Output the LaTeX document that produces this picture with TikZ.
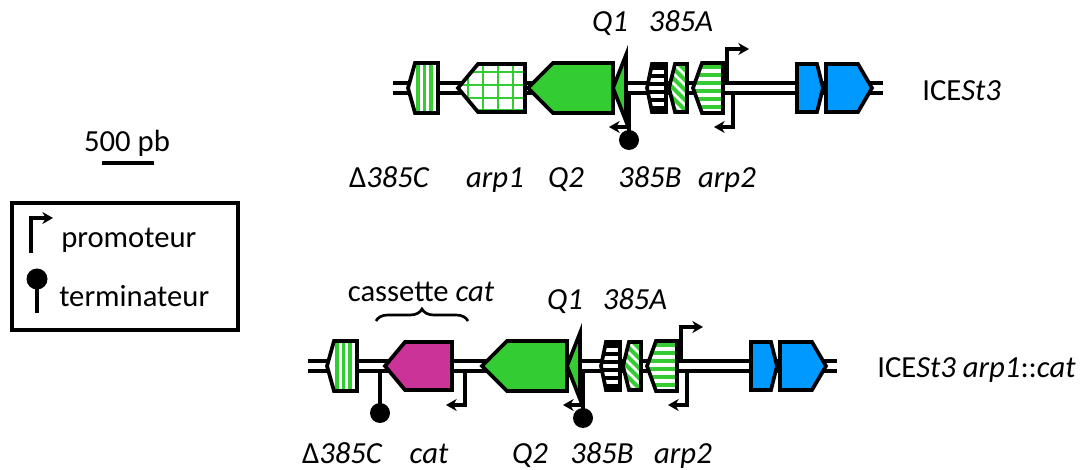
\documentclass[tikz,border=0pt]{standalone}
\usepackage{fontspec}
\setmainfont{Carlito}
\usetikzlibrary{arrows.meta,decorations.pathreplacing}
\definecolor{gr}{HTML}{33CC33}
\definecolor{bl}{HTML}{0099FF}
\definecolor{mg}{HTML}{CC3399}
\tikzset{
  gene/.style={draw=black, line width=2.8pt, line join=miter},
  wire/.style={line width=2.7pt, line join=miter},
  prom/.style={wire, -{Stealth[length=8pt,width=9pt]}},
  lbl/.style={anchor=base, inner sep=0pt, font=\fontsize{23}{27}\selectfont\itshape},
  txt/.style={inner sep=0pt, font=\fontsize{23}{27}\selectfont},
}
% gene outlines (row 1 coordinates)
\def\pDel{(408,88) -- (415,63) -- (438,63) -- (438,113) -- (415,113) -- cycle}
\def\pArpA{(458,88) -- (478,64) -- (525,64) -- (525,112) -- (478,112) -- cycle}
\def\pQtwo{(528,88) -- (553,63) -- (613,63) -- (613,113) -- (553,113) -- cycle}
\def\pQone{(613,88) -- (626,55) -- (626,121) -- cycle}
\def\pBB{(647,88) -- (652,64) -- (666,64) -- (666,112) -- (652,112) -- cycle}
\def\pBA{(669,88) -- (675,64) -- (687,64) -- (687,112) -- (675,112) -- cycle}
\def\pArpB{(693,88) -- (702,63) -- (723,63) -- (723,113) -- (702,113) -- cycle}
\def\pBlA{(797,64) -- (817,64) -- (823,88) -- (817,112) -- (797,112) -- cycle}
\def\pBlB{(826,64) -- (858,64) -- (872,88) -- (858,112) -- (826,112) -- cycle}
\def\pCat{(385,366) -- (405,342) -- (452,342) -- (452,390) -- (405,390) -- cycle}
\newcommand\dnaline[2]{%
  \draw[line width=10.5pt] (#1,88) -- (#2,88);
  \draw[line width=4.6pt, white] (#1-2,88) -- (#2+2,88);}
\newcommand\delgene{%
  \fill[white] \pDel;
  \begin{scope}\clip \pDel;
    \foreach \x in {418,424.5,431} \draw[gr, line width=2.6pt] (\x,60) -- (\x,116);
  \end{scope}
  \draw[gene] \pDel;}
\newcommand\tailpart{%
  \draw[gene, fill=gr] \pQtwo;
  \draw[gene, fill=gr] \pQone;
  \draw[wire] (629,93) -- (629,132);
  \fill (629,140) circle (10);
  \draw[prom] (629,127) -- (609,127);
  \fill[white] \pBB;
  \begin{scope}\clip \pBB;
    \foreach \y in {66,74,82,90,98,106} \fill (640,\y) rectangle (670,\y+4.2);
  \end{scope}
  \draw[gene] \pBB;
  \fill[white] \pBA;
  \begin{scope}\clip \pBA;
    \foreach \d in {-40,-30,...,30} \draw[gr, line width=3pt] (660+\d,55) -- (720+\d,115);
  \end{scope}
  \draw[gene] \pBA;
  \fill[white] \pArpB;
  \begin{scope}\clip \pArpB;
    \foreach \y in {65,73,81,89,97,105} \fill[gr] (690,\y) rectangle (726,\y+4.2);
  \end{scope}
  \draw[gene] \pArpB;
  \draw[prom] (727,82) -- (727,49) -- (749,49);
  \draw[prom] (733,94) -- (733,127) -- (714,127);
  \draw[gene, fill=bl] \pBlA;
  \draw[gene, fill=bl] \pBlB;}
\begin{document}
\begin{tikzpicture}[x=0.75pt, y=-0.75pt]
\useasboundingbox (0,0) rectangle (1082,470);

% ---------- legend ----------
\node[txt, anchor=base] (scale) at (127,152) {500 pb};
\draw[wire] (102,163) -- (154,163);
\draw[line width=2.7pt] (12,203) rectangle (238,330);
\draw[prom] (31,253) -- (31,218) -- (53,218);
\node[txt, anchor=base west] (prom) at (61,248) {promoteur};
\fill (37,279) circle (10.5);
\draw[wire] (37,280) -- (37,313);
\node[txt, anchor=base west] (term) at (59,307) {terminateur};

% ---------- row 1 : ICESt3 ----------
\dnaline{393}{883}
\delgene
\fill[white] \pArpA;
\begin{scope}\clip \pArpA;
  \foreach \x in {468,483,498,513} \draw[gr, line width=1.8pt] (\x,60) -- (\x,116);
  \foreach \y in {72,85,98,110} \draw[gr, line width=1.8pt] (455,\y) -- (528,\y);
\end{scope}
\draw[gene] \pArpA;
\tailpart
\node[lbl] (q1a) at (610,32) {Q1};
\node[lbl] (a385a) at (681,32) {385A};
\node[lbl] (d385a) at (389,188) {{\upshape Δ}385C};
\node[lbl] (arp1a) at (495,188) {arp1};
\node[lbl] (q2a) at (566,188) {Q2};
\node[lbl] (b385a) at (650,188) {385B};
\node[lbl] (arp2a) at (727,188) {arp2};
\node[txt, anchor=base west] (ice1) at (922,101) {ICE\textit{St3}};

% ---------- row 2 : ICESt3 arp1::cat ----------
\begin{scope}[shift={(0,278)}]
  \dnaline{308}{837}
\end{scope}
\begin{scope}[shift={(-81,278)}]
  \delgene
\end{scope}
\draw[wire] (380,372) -- (380,405);
\fill (380,413) circle (10);
\draw[gene, fill=mg] \pCat;
\draw[prom] (465,372) -- (465,405) -- (446,405);
\begin{scope}[shift={(-46,278)}]
  \tailpart
\end{scope}
\node[txt, anchor=base] (cass) at (421,302) {cassette \textit{cat}};
\coordinate (brL) at (376,321);
\coordinate (brR) at (468,321);
\draw[wire, line width=2pt, decorate, decoration={brace, amplitude=9pt}] (brL) -- (brR);
\node[lbl] (q1b) at (565,310) {Q1};
\node[lbl] (a385b) at (635,310) {385A};
\node[lbl] (d385b) at (342,463) {{\upshape Δ}385C};
\node[lbl] (catb) at (429,463) {cat};
\node[lbl] (q2b) at (530,463) {Q2};
\node[lbl] (b385b) at (602,463) {385B};
\node[lbl] (arp2b) at (683,463) {arp2};
\node[txt, anchor=base west] (ice2) at (877,378) {ICE\textit{St3 arp1}::\textit{cat}};
\end{tikzpicture}
\end{document}
